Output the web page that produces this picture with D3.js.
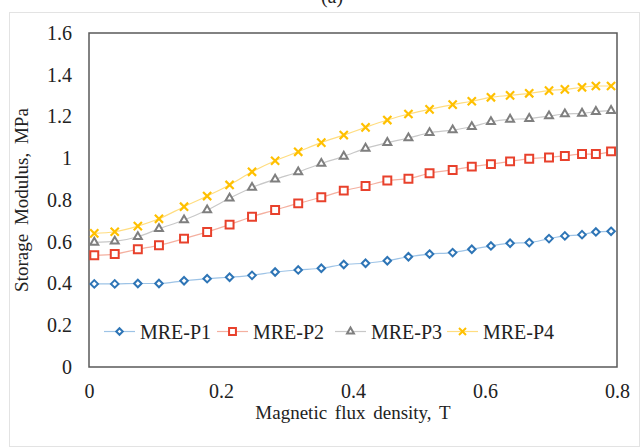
<!DOCTYPE html>
<html>
<head>
<meta charset="utf-8">
<script src="https://cdn.jsdelivr.net/npm/d3@7"></script>
<style>
  body { margin: 0; background: #fff; }
  text { font-family: "Liberation Serif", "Times New Roman", serif; fill: #222; }
</style>
</head>
<body>
<div id="chart"></div>
<script>
// data
var fluxDensity = [0.008, 0.039, 0.074, 0.106, 0.144, 0.179, 0.213, 0.247, 0.282, 0.317, 0.352, 0.386, 0.419,
  0.452, 0.484, 0.516, 0.551, 0.580, 0.609, 0.638, 0.667, 0.697, 0.721, 0.747, 0.768, 0.791];
var mreP1 = [0.398, 0.398, 0.400, 0.400, 0.413, 0.423, 0.430, 0.439, 0.455, 0.465, 0.473, 0.491, 0.497,
  0.509, 0.528, 0.541, 0.548, 0.564, 0.580, 0.593, 0.596, 0.615, 0.628, 0.634, 0.647, 0.650];
var mreP2 = [0.535, 0.541, 0.564, 0.583, 0.615, 0.647, 0.682, 0.720, 0.752, 0.784, 0.813, 0.845, 0.867,
  0.893, 0.902, 0.928, 0.944, 0.960, 0.972, 0.985, 0.998, 1.004, 1.011, 1.020, 1.020, 1.033];
var mreP3 = [0.597, 0.602, 0.624, 0.662, 0.704, 0.752, 0.808, 0.860, 0.899, 0.934, 0.975, 1.009, 1.047,
  1.075, 1.097, 1.122, 1.135, 1.151, 1.175, 1.186, 1.190, 1.202, 1.212, 1.215, 1.223, 1.228];
var mreP4 = [0.640, 0.648, 0.675, 0.710, 0.768, 0.819, 0.872, 0.935, 0.988, 1.031, 1.075, 1.111, 1.148,
  1.183, 1.212, 1.234, 1.257, 1.273, 1.292, 1.301, 1.311, 1.324, 1.330, 1.340, 1.346, 1.346];
var seriesNames = ["MRE-P1", "MRE-P2", "MRE-P3", "MRE-P4"];
var xTicks = [0, 0.2, 0.4, 0.6, 0.8];
var yTicks = [0, 0.2, 0.4, 0.6, 0.8, 1, 1.2, 1.4, 1.6];

var svgWidth = 643;
var svgHeight = 448;
var margin = { top: 33, right: 26, bottom: 81, left: 89 };
var width = svgWidth - margin.left - margin.right;
var height = svgHeight - margin.top - margin.bottom;

var svg = d3.select("#chart").append("svg")
  .attr("width", svgWidth)
  .attr("height", svgHeight);

// outer chart area border
svg.append("rect")
  .attr("x", 9.5).attr("y", 12.5)
  .attr("width", 630).attr("height", 434)
  .attr("fill", "none")
  .attr("stroke", "#e3e3e3");

// figure label, mostly cut off at the top
svg.append("text")
  .attr("x", 332).attr("y", 3)
  .attr("text-anchor", "middle")
  .attr("font-size", "20px")
  .text("(a)");

var chartGroup = svg.append("g")
  .attr("transform", `translate(${margin.left}, ${margin.top})`);

var x = d3.scaleLinear().domain([0, 0.8]).range([0, width]);
var y = d3.scaleLinear().domain([0, 1.6]).range([height, 0]);

// axes (labels only, no tick marks)
var xAxis = d3.axisBottom(x).tickValues(xTicks).tickSize(0).tickPadding(17)
  .tickFormat(d => d === 0 ? "0" : d3.format(".1f")(d));
var yAxis = d3.axisLeft(y).tickValues(yTicks).tickSize(0).tickPadding(17)
  .tickFormat(d => (d === 0 || d === 1) ? String(d) : d3.format(".1f")(d));

var gx = chartGroup.append("g")
  .attr("transform", `translate(0, ${height})`)
  .call(xAxis);
var gy = chartGroup.append("g").call(yAxis);
[gx, gy].forEach(function(g) {
  g.select(".domain").remove();
  g.selectAll("text")
    .attr("font-size", "20px")
    .attr("font-family", "Liberation Serif, serif")
    .attr("fill", "#222");
});

// plot frame
chartGroup.append("rect")
  .attr("width", width).attr("height", height)
  .attr("fill", "none")
  .attr("stroke", "#595959")
  .attr("stroke-width", 1.5);

var styles = [
  { data: mreP1, color: "#2e75b6", line: "#9dc3e6", shape: d3.symbolDiamond2, size: 36, rotate: 45 },
  { data: mreP2, color: "#e8412c", line: "#f4b0a0", shape: d3.symbolSquare2, size: 80, rotate: 0 },
  { data: mreP3, color: "#7f7f7f", line: "#c8c8c8", shape: d3.symbolTriangle2, size: 45, rotate: 0 },
  { data: mreP4, color: "#ffc000", line: "#ffdd80", shape: d3.symbolX, size: 45, rotate: 0 }
];

var line = d3.line()
  .x((d, i) => x(fluxDensity[i]))
  .y(d => y(d))
  .curve(d3.curveMonotoneX);

styles.forEach(function(s) {
  chartGroup.append("path")
    .datum(s.data)
    .attr("d", line)
    .attr("fill", "none")
    .attr("stroke", s.line)
    .attr("stroke-width", 1.2);

  chartGroup.append("g").selectAll("path")
    .data(s.data)
    .enter()
    .append("path")
    .attr("d", d3.symbol().type(s.shape).size(s.size))
    .attr("transform", (d, i) => `translate(${x(fluxDensity[i])}, ${y(d)})`)
    .attr("fill", "white")
    .attr("stroke", s.color)
    .attr("stroke-width", s.shape === d3.symbolX ? 2.2 : 2);
});

// legend inside the plot
var legendX = [15, 128, 246, 358];
var legend = chartGroup.append("g")
  .attr("transform", `translate(0, ${y(0.17)})`);
styles.forEach(function(s, i) {
  var item = legend.append("g").attr("transform", `translate(${legendX[i]}, 0)`);
  item.append("line")
    .attr("x1", 0).attr("x2", 31)
    .attr("stroke", s.line)
    .attr("stroke-width", 1.2);
  item.append("path")
    .attr("d", d3.symbol().type(s.shape).size(s.size * 0.75))
    .attr("transform", "translate(15.5, 0)")
    .attr("fill", "white")
    .attr("stroke", s.color)
    .attr("stroke-width", 2);
  item.append("text")
    .attr("x", 36)
    .attr("dy", "0.35em")
    .attr("font-size", "20px")
    .text(seriesNames[i]);
});

// axis titles
chartGroup.append("text")
  .attr("x", width / 2)
  .attr("y", height + 52)
  .attr("text-anchor", "middle")
  .attr("font-size", "19px")
  .attr("word-spacing", "3px")
  .text("Magnetic flux density, T");

chartGroup.append("text")
  .attr("transform", "rotate(-90)")
  .attr("x", -height / 2)
  .attr("y", -61)
  .attr("text-anchor", "middle")
  .attr("font-size", "19px")
  .attr("word-spacing", "4px")
  .text("Storage Modulus, MPa");
</script>
</body>
</html>
